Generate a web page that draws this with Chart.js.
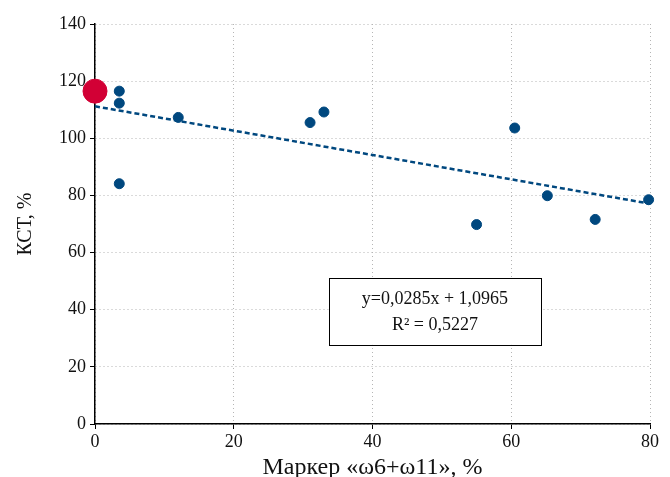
<!DOCTYPE html>
<html>
<head>
<meta charset="utf-8">
<script src="https://cdn.jsdelivr.net/npm/chart.js@4.4.0/dist/chart.umd.min.js"></script>
<style>
html,body{margin:0;padding:0;background:#fff;}
#wrap{width:670px;height:477px;position:relative;}
</style>
</head>
<body>
<div id="wrap"><canvas id="c" width="670" height="477"></canvas></div>
<script>
// Data
const markerX = [3.5, 3.5, 3.5, 12, 31, 33, 60.5, 55, 65.2, 72.1, 79.8];
const kstY    = [116.5, 112.3, 84.1, 107.3, 105.5, 109.2, 103.6, 69.8, 79.9, 71.6, 78.5];
const highlightX = [0];
const highlightY = [116.5];
const trendX = [0, 80];
const trendY = [111.2, 77.1];
const equationLines = ['y=0,0285x + 1,0965', 'R\u00B2 = 0,5227'];
const xTicks = [0, 20, 40, 60, 80];
const yTicks = [0, 20, 40, 60, 80, 100, 120, 140];

const BLUE = '#00487f';
const RED = '#d20035';
const FONT = '"Liberation Serif", "DejaVu Serif", serif';

const toPts = (xs, ys) => xs.map((x, i) => ({x: x, y: ys[i]}));

const eqBox = {
  id: 'eqBox',
  afterDatasetsDraw(chart, args, opts) {
    const {ctx, scales: {x, y}} = chart;
    const x1 = x.getPixelForValue(opts.x0), x2 = x.getPixelForValue(opts.x1);
    const y1 = y.getPixelForValue(opts.y1), y2 = y.getPixelForValue(opts.y0);
    ctx.save();
    ctx.fillStyle = '#fff';
    ctx.fillRect(x1, y1, x2 - x1, y2 - y1);
    ctx.strokeStyle = '#000';
    ctx.lineWidth = 1;
    ctx.strokeRect(Math.round(x1) + 0.5, Math.round(y1) + 0.5, Math.round(x2 - x1), Math.round(y2 - y1));
    ctx.fillStyle = '#111';
    ctx.font = '18px ' + FONT;
    ctx.textAlign = 'center';
    ctx.textBaseline = 'middle';
    const cx = (x1 + x2) / 2, cy = (y1 + y2) / 2;
    ctx.fillText(equationLines[0], cx, cy - 12);
    ctx.fillText(equationLines[1], cx, cy + 14);
    ctx.restore();
  }
};

new Chart(document.getElementById('c'), {
  type: 'scatter',
  data: {
    datasets: [
      {
        data: toPts(markerX, kstY),
        backgroundColor: BLUE,
        borderColor: BLUE,
        pointRadius: 5,
        pointHoverRadius: 5,
        clip: false,
        order: 1
      },
      {
        type: 'line',
        data: toPts(trendX, trendY),
        borderColor: BLUE,
        borderWidth: 2.5,
        borderDash: [5, 3],
        pointRadius: 0,
        fill: false,
        clip: false,
        order: 3
      },
      {
        data: toPts(highlightX, highlightY),
        backgroundColor: RED,
        borderColor: RED,
        pointRadius: 12,
        pointHoverRadius: 12,
        clip: false,
        order: 2
      }
    ]
  },
  options: {
    responsive: false,
    animation: false,
    events: [],
    layout: {padding: {top: 24, right: 20, left: 0, bottom: 0}},
    plugins: {
      legend: {display: false},
      tooltip: {enabled: false},
      eqBox: {x0: 33.7, x1: 64.3, y0: 27.7, y1: 51.1}
    },
    scales: {
      x: {
        type: 'linear',
        min: 0, max: 80,
        afterBuildTicks: s => { s.ticks = xTicks.map(v => ({value: v})); },
        afterFit: s => { s.height = 53; },
        ticks: {color: '#111', font: {family: FONT, size: 18}, padding: 2, maxRotation: 0},
        grid: {color: '#b5b5b5', lineWidth: 1, tickColor: '#000', tickLength: 5, tickWidth: 1},
        border: {display: true, color: '#000', width: 1.5, dash: [1, 3]},
        title: {display: true, text: 'Маркер «ω6+ω11», %', color: '#111', font: {family: FONT, size: 24}, padding: {top: 0, bottom: -5}}
      },
      y: {
        type: 'linear',
        min: 0, max: 140,
        afterBuildTicks: s => { s.ticks = yTicks.map(v => ({value: v})); },
        afterFit: s => { s.width = 95; },
        ticks: {color: '#111', font: {family: FONT, size: 18}, padding: 4},
        grid: {color: '#b5b5b5', lineWidth: 1, tickColor: '#000', tickLength: 5, tickWidth: 1},
        border: {display: true, color: '#000', width: 1.5, dash: [1, 3]},
        title: {display: true, text: 'КСТ, %', color: '#111', font: {family: FONT, size: 20}, padding: {top: 14, bottom: 0}}
      }
    }
  },
  plugins: [eqBox]
});
</script>
</body>
</html>
